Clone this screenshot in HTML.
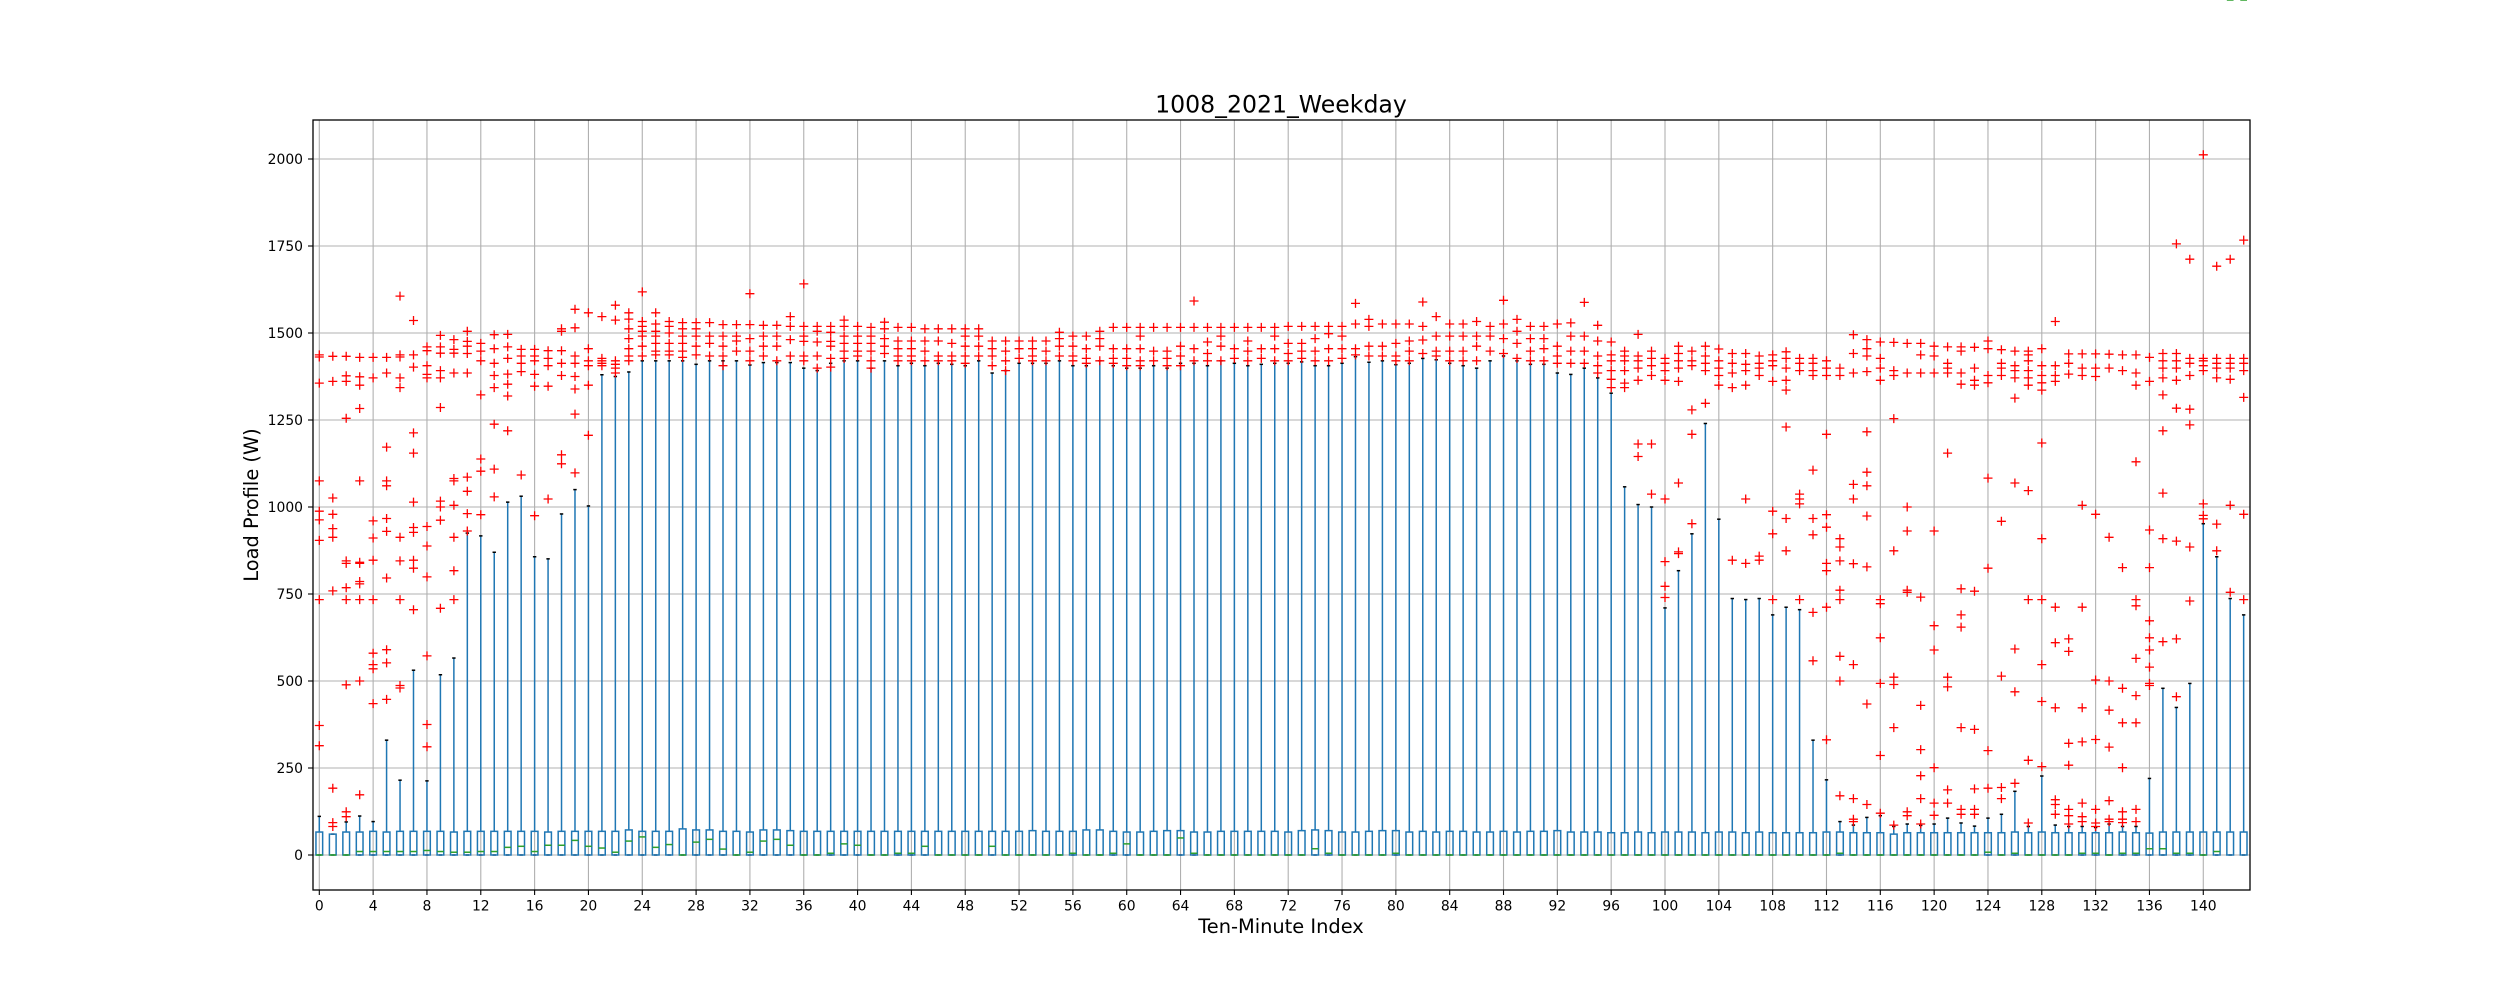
<!DOCTYPE html>
<html><head><meta charset="utf-8"><title>1008_2021_Weekday</title>
<style>
html,body{margin:0;padding:0;background:#fff;}
svg{display:block;font-family:"DejaVu Sans","Liberation Sans",sans-serif;}
</style></head>
<body>
<svg id="chart" width="2500" height="1000" viewBox="0 0 2500 1000" xmlns="http://www.w3.org/2000/svg">
<rect x="0" y="0" width="2500" height="1000" fill="#ffffff"/>
<g id="grid"></g>
<g id="boxes"></g>
<g id="fliers"></g>
<rect x="313" y="120" width="1937" height="770" fill="none" stroke="#000" stroke-width="1.3"/>
<g id="axes"></g>
<text x="1281" y="112.7" text-anchor="middle" font-size="23.6">1008_2021_Weekday</text>
<text x="1281" y="933" text-anchor="middle" font-size="19.4">Ten-Minute Index</text>
<text x="0" y="0" transform="translate(258,505) rotate(-90)" text-anchor="middle" font-size="19.4">Load Profile (W)</text>
</svg>
<script>
const yTicks = [0,250,500,750,1000,1250,1500,1750,2000];
const xTicks = [0,4,8,12,16,20,24,28,32,36,40,44,48,52,56,60,64,68,72,76,80,84,88,92,96,100,104,108,112,116,120,124,128,132,136,140];
const whiskerHi = [111,60,95,112,96,330,215,531,213,518,566,925,917,870,1014,1031,857,851,980,1050,1003,1380,1375,1388,1420,1420,1420,1420,1410,1420,1420,1420,1408,1415,1415,1415,
1399,1392,1413,1420,1420,1399,1420,1406,1413,1406,1413,1410,1406,1420,1385,1392,1413,1413,1413,1420,1406,1406,1420,1406,1399,1399,1406,1399,1413,1413,1406,1420,1413,1406,1410,1413,
1413,1417,1406,1406,1413,1432,1416,1420,1409,1413,1427,1423,1413,1406,1399,1420,1434,1420,1410,1410,1385,1381,1399,1371,1327,1058,1007,1000,710,817,923,1240,965,737,734,737,
690,712,705,330,216,96,86,108,113,82,89,85,89,106,92,83,106,117,183,82,227,86,82,82,79,89,82,82,220,479,424,493,952,857,737,690];
const q3 = [66,60,66,66,68,66,68,68,68,68,66,68,68,68,68,68,68,66,68,68,68,68,68,72,68,68,68,75,72,72,68,68,66,72,72,70,
68,68,68,68,68,68,68,68,68,68,68,68,68,68,68,68,68,70,68,68,68,72,72,68,66,66,68,70,70,66,66,68,68,68,68,68,
66,70,72,70,66,66,68,70,70,66,68,66,68,68,66,66,68,66,68,68,70,66,66,66,64,64,66,64,66,66,66,64,66,66,64,66,
64,64,64,64,66,66,64,64,64,60,64,64,64,64,64,64,64,64,66,64,66,64,64,64,64,64,66,64,63,66,66,66,66,66,66,66];
const med = [0,0,0,10,10,10,10,10,13,10,8,8,10,10,22,25,10,28,28,42,25,20,8,40,52,22,30,0,37,45,17,0,8,40,45,28,
0,0,5,32,28,0,0,5,5,25,0,0,0,0,25,0,0,0,0,0,5,0,0,5,32,0,0,0,49,5,0,0,0,0,0,0,
0,0,18,5,0,0,0,0,5,0,0,0,0,0,0,0,0,0,0,0,0,0,0,0,0,0,0,0,0,0,0,0,0,0,0,0,
0,0,0,0,0,5,0,0,0,0,0,0,0,0,0,0,8,0,5,0,0,0,0,5,5,0,5,5,18,18,5,5,0,10];
const fliers = [
[1437,1431,1356,1075,988,963,904,734,372,314],
[1433,1361,1026,979,938,913,759,192,93,82],
[1433,1361,1377,1255,845,838,768,734,489,124,110],
[1430,1374,1350,1283,1075,841,838,786,779,734,500,173],
[1430,1371,960,911,847,734,580,547,535,435],
[1430,1385,1172,1075,1061,967,930,796,590,552,447],
[1606,1437,1431,1371,1343,913,845,734,487,480],
[1536,1437,1402,1213,1155,1014,941,927,847,824,705],
[1460,1449,1406,1381,1371,944,888,799,572,375,311],
[1493,1460,1442,1392,1371,1286,1017,1000,962,709],
[1481,1453,1442,1385,1082,1075,1005,913,817,734],
[1505,1476,1462,1441,1385,1086,1045,981,931],
[1470,1448,1420,1322,1138,1103,978],
[1495,1455,1413,1378,1343,1238,1109,1029],
[1496,1460,1427,1382,1353,1319,1219],
[1453,1434,1413,1389,1092],
[1453,1434,1420,1381,1347,975],
[1449,1427,1406,1347,1023],
[1512,1505,1449,1413,1378,1150,1124],
[1568,1515,1434,1413,1375,1339,1267,1098],
[1558,1455,1420,1406,1350,1206],
[1547,1427,1420,1413,1406],
[1580,1537,1420,1410,1399,1385],
[1558,1540,1512,1484,1455,1434,1420],
[1618,1533,1519,1505,1491,1462,1434],
[1558,1526,1505,1491,1470,1448,1437],
[1533,1519,1500,1470,1448,1437],
[1530,1512,1491,1470,1448,1430],
[1530,1512,1491,1462,1437],
[1530,1491,1470,1434],
[1524,1491,1462,1434,1406],
[1524,1491,1477,1448],
[1613,1524,1484,1448,1420],
[1522,1491,1462,1434],
[1522,1491,1462,1420],
[1547,1519,1481,1434],
[1641,1519,1491,1476,1434,1420],
[1519,1505,1474,1434,1399],
[1519,1502,1476,1462,1427,1402],
[1537,1519,1491,1470,1448,1427],
[1519,1491,1470,1448,1434],
[1516,1491,1470,1448,1420,1399],
[1531,1512,1484,1462,1441],
[1516,1477,1455,1434,1420],
[1516,1477,1455,1434,1420],
[1512,1477,1448,1420],
[1512,1477,1434,1420],
[1512,1470,1434,1420],
[1512,1491,1462,1434,1413],
[1512,1491,1462,1434],
[1477,1455,1434,1406],
[1477,1448,1420,1392],
[1477,1455,1427],
[1477,1455,1434,1420],
[1477,1448,1420],
[1502,1484,1462,1434],
[1491,1462,1434,1420],
[1491,1455,1427,1413],
[1505,1484,1462,1420],
[1516,1455,1427,1413],
[1516,1455,1427,1406],
[1516,1491,1455,1420,1406],
[1516,1448,1420],
[1516,1448,1427,1406],
[1516,1462,1434,1406],
[1592,1516,1455,1420],
[1516,1474,1441,1420],
[1516,1491,1462,1420],
[1516,1455,1427],
[1516,1477,1448,1420],
[1516,1455,1427],
[1516,1491,1455,1420],
[1519,1470,1441,1420],
[1519,1470,1448,1427],
[1519,1484,1448,1420],
[1519,1498,1455,1420],
[1519,1491,1455,1427],
[1585,1526,1455,1437],
[1539,1519,1462,1434],
[1526,1462,1434],
[1526,1470,1434,1420],
[1526,1477,1448,1420],
[1589,1519,1480,1441],
[1547,1491,1448,1434],
[1526,1491,1448,1420],
[1526,1491,1448,1420],
[1533,1491,1462,1420],
[1519,1491,1448],
[1594,1526,1484,1441],
[1539,1505,1470,1427],
[1519,1484,1448,1420],
[1519,1484,1455,1420],
[1526,1462,1434,1413],
[1529,1491,1448,1413],
[1588,1491,1448,1413],
[1522,1477,1434,1406,1385],
[1474,1437,1420,1392,1367,1343],
[1448,1434,1420,1392,1356,1343],
[1496,1434,1420,1399,1364,1181,1145],
[1448,1427,1406,1378,1181,1037],
[1427,1413,1392,1364,1023,843,772,740],
[1462,1441,1420,1399,1361,1069,871,866],
[1448,1420,1406,1279,1209,952],
[1462,1434,1413,1392,1298],
[1454,1420,1399,1378,1350],
[1441,1413,1385,1343,847],
[1441,1410,1392,1350,1023,838],
[1434,1413,1399,1378,859,847],
[1437,1420,1406,1361,988,923,734],
[1446,1427,1399,1364,1336,1230,967,874],
[1427,1413,1392,1037,1023,1009,734],
[1427,1413,1392,1378,1106,967,920,697,558],
[1420,1399,1378,1209,978,942,838,817,712,331],
[1399,1378,909,885,845,761,734,571,500,170],
[1495,1441,1385,1065,1023,837,547,162,103,96],
[1481,1455,1434,1389,1216,1100,1061,974,828,434,145],
[1474,1427,1399,1364,734,722,624,493,286,120],
[1473,1392,1378,1254,874,511,490,366,86],
[1470,1385,1000,931,761,755,124,113],
[1470,1437,1385,741,430,303,228,162,89],
[1462,1434,1385,931,659,589,251,149,114],
[1460,1413,1399,1385,1155,511,483,187,149],
[1460,1448,1385,1353,765,690,655,366,131,117],
[1459,1399,1364,1350,758,361,190,131,117],
[1477,1455,1378,1357,1083,824,300,192],
[1452,1413,1399,1378,959,514,194,162],
[1448,1406,1392,1371,1313,1069,592,469,206],
[1448,1437,1420,1392,1371,1350,1047,734,272,92],
[1455,1406,1378,1357,1336,1184,909,734,547,441,254],
[1533,1406,1378,1361,712,610,423,159,145,117],
[1440,1413,1382,621,585,321,258,131,113,89],
[1440,1399,1378,1005,712,423,325,149,110,96],
[1440,1399,1375,979,503,332,131,92,82],
[1439,1399,913,500,416,310,156,103,96],
[1437,1392,826,479,380,251,124,103,93],
[1437,1385,1350,1130,734,716,565,458,380,131,96],
[1430,1361,934,826,673,624,589,540,493,487],
[1441,1420,1399,1371,1322,1219,1040,909,613],
[1756,1441,1420,1399,1364,1284,902,621,455],
[1712,1427,1413,1378,1281,1236,885,730],
[2012,1427,1420,1406,1392,1009,976,966],
[1692,1427,1413,1399,1371,951,874],
[1712,1427,1413,1399,1367,1005,755],
[1767,1427,1413,1392,1315,979,734]
];

const NS = "http://www.w3.org/2000/svg";
const X0 = 319.3, DX = 13.457, Y0 = 855, KY = 0.348;
function xPix(i){ return X0 + DX * i; }
function yPix(v){ return Y0 - KY * v; }
function mk(tag, attrs, parent){
  const e = document.createElementNS(NS, tag);
  for (const k in attrs) e.setAttribute(k, attrs[k]);
  parent.appendChild(e);
  return e;
}
const grid = document.getElementById('grid');
const axes = document.getElementById('axes');
const boxes = document.getElementById('boxes');
const fl = document.getElementById('fliers');

yTicks.forEach(function(t){
  const y = yPix(t);
  const g = mk('line', {x1:313, x2:2250, y1:y, y2:y, stroke:'#b0b0b0', 'stroke-width':1.1}, grid);
  
  
  const tk = mk('line', {x1:308, x2:313, y1:y, y2:y, stroke:'#000', 'stroke-width':1.1}, axes);
  
  
  const tx = mk('text', {x:303, y:y+5, 'text-anchor':'end', 'font-size':13.9}, axes);
  tx.textContent = String(t);
  
  
});
xTicks.forEach(function(t){
  const x = xPix(t);
  const g = mk('line', {x1:x, x2:x, y1:120, y2:890, stroke:'#b0b0b0', 'stroke-width':1.1}, grid);
  
  
  const tk = mk('line', {x1:x, x2:x, y1:890, y2:895, stroke:'#000', 'stroke-width':1.1}, axes);
  
  
  const tx = mk('text', {x:x, y:910.7, 'text-anchor':'middle', 'font-size':13.9}, axes);
  tx.textContent = String(t);
  
  
});

const BW = 6.7, CW = 3.4;
for (let i = 0; i < whiskerHi.length; i++){
  const x = xPix(i);
  const yq1 = yPix(0), yq3 = yPix(q3[i]), yw = yPix(Math.max(whiskerHi[i], q3[i]));
  const g = mk('g', {}, boxes);
  
  
  mk('line', {x1:x, x2:x, y1:yq3, y2:yw, stroke:'#1f77b4', 'stroke-width':1.5}, g);
  mk('line', {x1:x-CW/2, x2:x+CW/2, y1:yw, y2:yw, stroke:'#000', 'stroke-width':1.5}, g);
  mk('line', {x1:x-CW/2, x2:x+CW/2, y1:yq1, y2:yq1, stroke:'#000', 'stroke-width':1.5}, g);
  mk('rect', {x:x-BW/2, y:yq3, width:BW, height:yq1-yq3, fill:'none', stroke:'#1f77b4', 'stroke-width':1.5}, g);
  const ym = yPix(med[i]);
  mk('line', {x1:x-BW/2, x2:x+BW/2, y1:ym, y2:ym, stroke:'#2ca02c', 'stroke-width':1.5}, g);
  const pts = fliers[i] || [];
  let d = '';
  pts.forEach(function(v){
    const y = yPix(v);
    d += 'M' + (x-4.5).toFixed(1) + ' ' + y.toFixed(1) + 'h9M' + x.toFixed(1) + ' ' + (y-4.5).toFixed(1) + 'v9';
  });
  if (d){
    const p = mk('path', {d:d, stroke:'#ff0000', 'stroke-width':1.3, fill:'none'}, fl);
    
    
  }
}
</script>
</body></html>
